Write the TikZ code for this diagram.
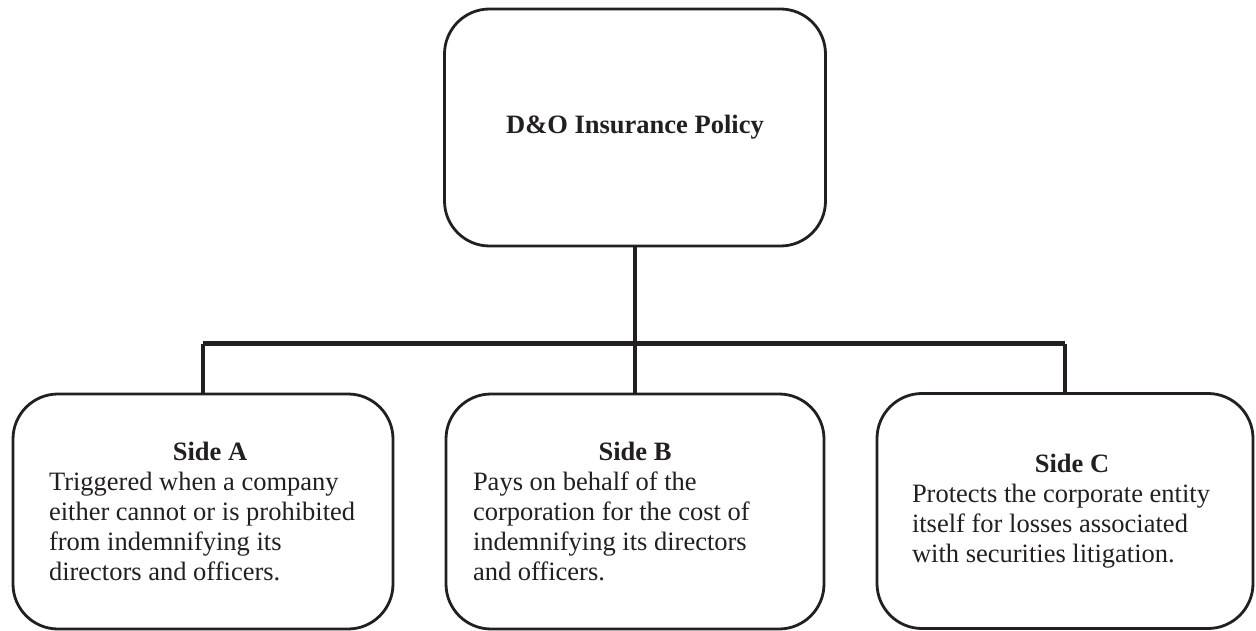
\documentclass[tikz,border=0pt]{standalone}
\usepackage{fontspec}
\setmainfont{Liberation Serif}
\definecolor{ink}{HTML}{231F20}
\begin{document}
\begin{tikzpicture}[x=1pt,y=-1pt,
  box/.style={draw=ink, line width=2.8pt, rounded corners=45pt, inner sep=0pt, outer sep=0pt, text=ink},
  side/.style={box, minimum height=235pt},
  link/.style={draw=ink, line width=3.4pt},
  bar/.style={draw=ink, line width=5.5pt, line cap=square}]
\useasboundingbox (0,0) rectangle (1256,631);
\fontsize{26.5}{30}\selectfont
\node[box, minimum width=381pt, minimum height=237pt] (top) at (635,127.5) {\textbf{D\&O Insurance Policy}};
\node[side, minimum width=380pt] (A) at (203,511.5) {\parbox{308pt}{\centering\hspace*{14pt}\textbf{Side A}\par\raggedright Triggered when a company\\either cannot or is prohibited\\from indemnifying its\\directors and officers.}};
\node[side, minimum width=378pt] (B) at (635,511.5) {\parbox{324pt}{\centering\textbf{Side B}\par\raggedright Pays on behalf of the\\corporation for the cost of\\indemnifying its directors\\and officers.}};
\node[side, minimum width=376pt] (C) at (1065,511) {\parbox{306pt}{\centering\hspace*{14pt}\textbf{Side C}\par\raggedright Protects the corporate entity\\itself for losses associated\\with securities litigation.}};
\coordinate (j) at (635,343.5);
\draw[link] (top.south) -- (j);
\draw[bar] (A.north |- j) -- (C.north |- j);
\draw[link] (A.north |- j) -- (A.north);
\draw[link] (j) -- (B.north);
\draw[link] (C.north |- j) -- (C.north);
\end{tikzpicture}
\end{document}
